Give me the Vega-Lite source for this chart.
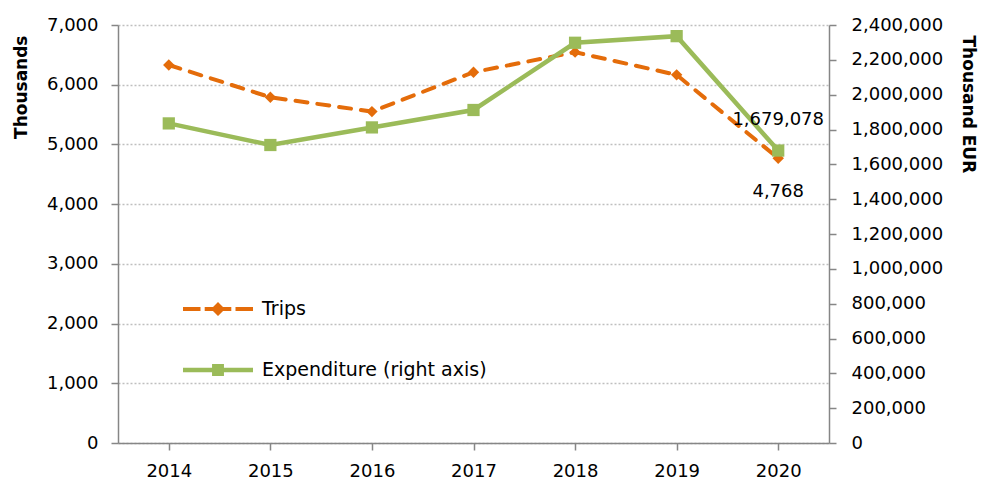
{
  "$schema": "https://vega.github.io/schema/vega-lite/v6.json",
  "width": 711,
  "height": 418,
  "autosize": {"type": "none"},
  "padding": {"left": 118, "top": 25, "right": 152, "bottom": 38},
  "background": "white",
  "config": {
    "view": {"stroke": null},
    "font": "DejaVu Sans",
    "axis": {
      "labelFont": "DejaVu Sans",
      "labelFontSize": 18,
      "labelColor": "#000000",
      "titleFont": "DejaVu Sans",
      "titleFontSize": 17,
      "titleFontWeight": "bold",
      "titleColor": "#000000",
      "domainColor": "#868686",
      "domainWidth": 1.5,
      "tickColor": "#868686",
      "tickWidth": 1.5,
      "tickSize": 7
    }
  },
  "data": {
    "values": [
      {"year": 2014, "series": "Trips", "value": 6330},
      {"year": 2015, "series": "Trips", "value": 5790},
      {"year": 2016, "series": "Trips", "value": 5550},
      {"year": 2017, "series": "Trips", "value": 6210},
      {"year": 2018, "series": "Trips", "value": 6545},
      {"year": 2019, "series": "Trips", "value": 6165},
      {"year": 2020, "series": "Trips", "value": 4768},
      {"year": 2014, "series": "Expenditure (right axis)", "value": 1835000},
      {"year": 2015, "series": "Expenditure (right axis)", "value": 1711000},
      {"year": 2016, "series": "Expenditure (right axis)", "value": 1812000},
      {"year": 2017, "series": "Expenditure (right axis)", "value": 1912000},
      {"year": 2018, "series": "Expenditure (right axis)", "value": 2298000},
      {"year": 2019, "series": "Expenditure (right axis)", "value": 2336000},
      {"year": 2020, "series": "Expenditure (right axis)", "value": 1679078}
    ]
  },
  "encoding": {
    "x": {
      "field": "year",
      "type": "ordinal",
      "scale": {"type": "point", "padding": 0.5},
      "axis": {"title": null, "labelAngle": 0, "labelPadding": 12, "grid": false}
    }
  },
  "layer": [
    {
      "transform": [{"filter": "datum.series === 'Trips'"}],
      "encoding": {
        "y": {
          "field": "value",
          "type": "quantitative",
          "scale": {"domain": [0, 7000], "nice": false},
          "axis": {
            "title": "Thousands",
            "orient": "left",
            "values": [0, 1000, 2000, 3000, 4000, 5000, 6000, 7000],
            "format": ",.0f",
            "grid": true,
            "gridColor": "#BFBFBF",
            "gridDash": [2, 2],
            "gridWidth": 1.5,
            "labelPadding": 13,
            "titleAnchor": "end",
            "titleAlign": "right",
            "titleY": 10,
            "titlePadding": 16
          }
        }
      },
      "layer": [
        {"mark": {"type": "line", "color": "#E46C0A", "strokeWidth": 4, "strokeDash": [12, 10], "strokeCap": "round"}},
        {
          "mark": {"type": "point", "shape": "diamond", "filled": true, "size": 130, "opacity": 1},
          "encoding": {
            "color": {
              "field": "series",
              "type": "nominal",
              "scale": {"domain": ["Trips", "Expenditure (right axis)"], "range": ["#E46C0A", "#9BBB59"]},
              "legend": {
                "title": null,
                "orient": "none",
                "legendX": 65,
                "legendY": 249,
                "symbolSize": 4900,
                "symbolStrokeWidth": 0,
                "symbolOpacity": 1,
                "labelFont": "DejaVu Sans",
                "labelFontSize": 19,
                "labelColor": "#000000",
                "labelOffset": 9,
                "labelLimit": 400,
                "rowPadding": 16,
                "encode": {
                  "symbols": {
                    "update": {
                      "shape": {"signal": "datum.value === 'Trips' ? 'M-1,-0.06H-0.5V0.06H-1Z M-0.38,-0.06H0.38V0.06H-0.38Z M0.5,-0.06H1V0.06H0.5Z M0,-0.2L0.2,0L0,0.2L-0.2,0Z' : 'M-1,-0.065H1V0.065H-1Z M-0.17,-0.17H0.17V0.17H-0.17Z'"}
                    }
                  }
                }
              }
            }
          }
        },
        {
          "transform": [{"filter": "datum.year === 2020"}],
          "mark": {"type": "text", "dy": 34, "fontSize": 18, "font": "DejaVu Sans", "color": "#000000"},
          "encoding": {"text": {"field": "value", "type": "quantitative", "format": ","}}
        }
      ]
    },
    {
      "transform": [{"filter": "datum.series === 'Expenditure (right axis)'"}],
      "encoding": {
        "y": {
          "field": "value",
          "type": "quantitative",
          "scale": {"domain": [0, 2400000], "nice": false},
          "axis": {
            "title": "Thousand EUR",
            "orient": "right",
            "values": [0, 200000, 400000, 600000, 800000, 1000000, 1200000, 1400000, 1600000, 1800000, 2000000, 2200000, 2400000],
            "format": ",.0f",
            "grid": false,
            "labelPadding": 15,
            "titleAnchor": "end",
            "titleAlign": "left",
            "titleY": 10,
            "titlePadding": 16
          }
        }
      },
      "layer": [
        {"mark": {"type": "line", "color": "#9BBB59", "strokeWidth": 4.5}},
        {
          "mark": {"type": "point", "shape": "square", "filled": true, "size": 150, "opacity": 1},
          "encoding": {
            "color": {
              "field": "series",
              "type": "nominal",
              "scale": {"domain": ["Trips", "Expenditure (right axis)"], "range": ["#E46C0A", "#9BBB59"]},
              "legend": {
                "title": null,
                "orient": "none",
                "legendX": 65,
                "legendY": 249,
                "symbolSize": 4900,
                "symbolStrokeWidth": 0,
                "symbolOpacity": 1,
                "labelFont": "DejaVu Sans",
                "labelFontSize": 19,
                "labelColor": "#000000",
                "labelOffset": 9,
                "labelLimit": 400,
                "rowPadding": 16,
                "encode": {
                  "symbols": {
                    "update": {
                      "shape": {"signal": "datum.value === 'Trips' ? 'M-1,-0.06H-0.5V0.06H-1Z M-0.38,-0.06H0.38V0.06H-0.38Z M0.5,-0.06H1V0.06H0.5Z M0,-0.2L0.2,0L0,0.2L-0.2,0Z' : 'M-1,-0.065H1V0.065H-1Z M-0.17,-0.17H0.17V0.17H-0.17Z'"}
                    }
                  }
                }
              }
            }
          }
        },
        {
          "transform": [{"filter": "datum.year === 2020"}],
          "mark": {"type": "text", "dy": -31, "fontSize": 18, "font": "DejaVu Sans", "color": "#000000"},
          "encoding": {"text": {"field": "value", "type": "quantitative", "format": ","}}
        }
      ]
    }
  ],
  "resolve": {"scale": {"y": "independent"}}
}
